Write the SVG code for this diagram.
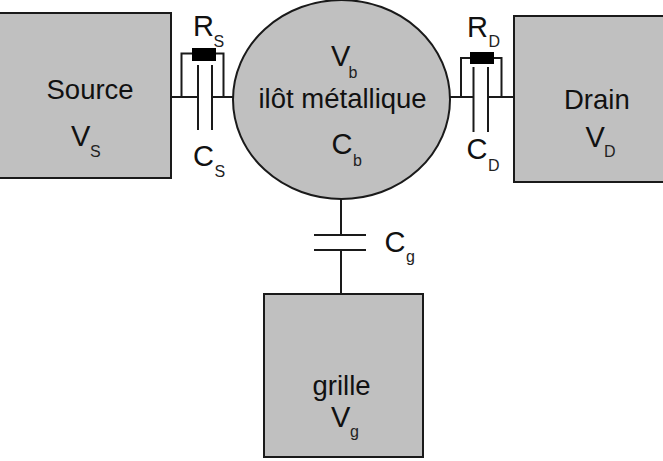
<svg xmlns="http://www.w3.org/2000/svg" width="663" height="461" viewBox="0 0 663 461">
<style>
.b{fill:#c0c0c0;stroke:#1a1a1a;stroke-width:2}
.w{fill:none;stroke:#1a1a1a;stroke-width:2}
.r{fill:#000}
text{font-family:"Liberation Sans",Arial,sans-serif;font-size:27.500px;fill:#111}
.l{font-size:29px}
.s{font-size:16px;fill:#222}
</style>
<rect width="663" height="461" fill="#fff"/>
<g id="connectors">
<path class="w" d="M171 97H198M212 97H233M198 65V130M212 65V130M181.500 97V53.500H223.500V97"/>
<path class="w" d="M450 97H473.500M488 97H514M473.500 67V132M488 67V132M461 97V58H501.500V97"/>
<path class="w" d="M341 199V235M341 250V294M314 235H366M314 250H366"/>
<rect class="r" x="192" y="48" width="24" height="13"/>
<rect class="r" x="470" y="52" width="24" height="12"/>
</g>
<g id="source">
<rect class="b" x="-1" y="13" width="172" height="165"/>
<text x="46.500" y="99">Source</text>
<text class="l" x="71" y="146">V</text><text class="s" x="90" y="157">S</text>
</g>
<g id="ilot">
<ellipse class="b" cx="341.500" cy="99.500" rx="108.500" ry="99.500"/>
<text class="l" x="331" y="66">V</text><text class="s" x="348.500" y="78">b</text>
<text x="258.500" y="108">ilôt métallique</text>
<text class="l" x="331.500" y="154">C</text><text class="s" x="353" y="166">b</text>
</g>
<g id="drain">
<rect class="b" x="514" y="16" width="150" height="166"/>
<text x="564" y="109">Drain</text>
<text class="l" x="585.500" y="147">V</text><text class="s" x="604" y="157">D</text>
</g>
<g id="grille">
<rect class="b" x="264" y="294" width="159" height="163"/>
<text x="312.500" y="395">grille</text>
<text class="l" x="331" y="427">V</text><text class="s" x="350" y="437">g</text>
</g>
<g id="labels">
<text class="l" x="193" y="36">R</text><text class="s" x="213.500" y="47">S</text>
<text class="l" x="193" y="166">C</text><text class="s" x="214.500" y="177">S</text>
<text class="l" x="467" y="37">R</text><text class="s" x="488.500" y="47">D</text>
<text class="l" x="466.500" y="159">C</text><text class="s" x="488" y="171">D</text>
<text class="l" x="384.500" y="252">C</text><text class="s" x="406" y="262">g</text>
</g>
</svg>
